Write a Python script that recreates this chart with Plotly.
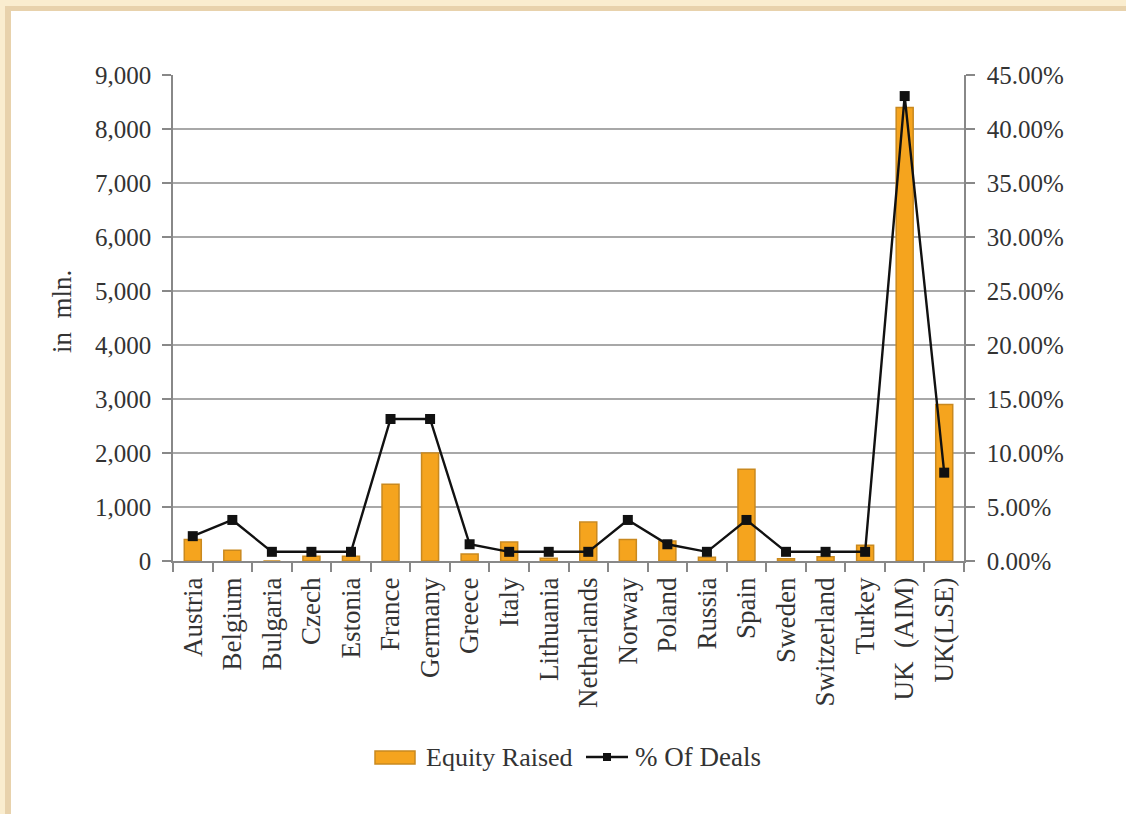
import plotly.graph_objects as go

countries = ["Austria", "Belgium", "Bulgaria", "Czech", "Estonia", "France", "Germany",
             "Greece", "Italy", "Lithuania", "Netherlands", "Norway", "Poland", "Russia",
             "Spain", "Sweden", "Switzerland", "Turkey", "UK  (AIM)", "UK(LSE)"]
equity_raised = [400, 200, 0, 90, 90, 1420, 2000, 130, 350, 50, 720, 400, 370, 70,
                 1700, 40, 80, 290, 8400, 2900]
pct_deals = [0.023, 0.038, 0.0085, 0.0085, 0.0085, 0.1315, 0.1315, 0.0155, 0.0085, 0.0085,
             0.0085, 0.038, 0.0155, 0.0085, 0.038, 0.0085, 0.0085, 0.0085, 0.4305, 0.0818]

W, H = 1126, 814
L, R, T, B = 173, 964, 75, 561

FONT = "Liberation Serif"
TXT = "#333333"
BAR_FILL = "#F5A41E"
BAR_LINE = "#C9891F"

fig = go.Figure()
fig.add_trace(go.Bar(x=countries, y=equity_raised, name="Equity Raised",
                     marker=dict(color=BAR_FILL, line=dict(color=BAR_LINE, width=1.5))))
fig.add_trace(go.Scatter(x=countries, y=pct_deals, name="% Of Deals", yaxis="y2",
                         mode="lines+markers", cliponaxis=False,
                         line=dict(color="#111111", width=2.4),
                         marker=dict(symbol="square", size=10, color="#111111")))

def px_x(p):
    return (p - L) / (R - L)

def px_y(p):
    return (B - p) / (B - T)

shapes = [
    dict(type="rect", xref="paper", yref="paper", x0=px_x(0), x1=px_x(W), y0=px_y(0), y1=px_y(11),
         fillcolor="#FAEDCF", line=dict(width=0), layer="below"),
    dict(type="rect", xref="paper", yref="paper", x0=px_x(0), x1=px_x(11), y0=px_y(0), y1=px_y(H),
         fillcolor="#FAEDCF", line=dict(width=0), layer="below"),
    dict(type="rect", xref="paper", yref="paper", x0=px_x(5), x1=px_x(W), y0=px_y(6), y1=px_y(11),
         fillcolor="#E8D2AC", line=dict(width=0), layer="below"),
    dict(type="rect", xref="paper", yref="paper", x0=px_x(5), x1=px_x(11), y0=px_y(6), y1=px_y(H),
         fillcolor="#E8D2AC", line=dict(width=0), layer="below"),
    # legend swatches
    dict(type="rect", xref="paper", yref="paper", x0=px_x(375), x1=px_x(415), y0=px_y(751),
         y1=px_y(764), fillcolor=BAR_FILL, line=dict(color=BAR_LINE, width=1.5)),
    dict(type="line", xref="paper", yref="paper", x0=px_x(586), x1=px_x(628), y0=px_y(757),
         y1=px_y(757), line=dict(color="#111111", width=2.4)),
    dict(type="rect", xref="paper", yref="paper", x0=px_x(603), x1=px_x(611), y0=px_y(753),
         y1=px_y(761), fillcolor="#111111", line=dict(width=0)),
]

fig.update_layout(
    width=W, height=H,
    margin=dict(l=L, r=W - R, t=T, b=H - B),
    paper_bgcolor="white", plot_bgcolor="white",
    font=dict(family=FONT, size=25, color=TXT),
    bargap=0.57,
    showlegend=False,
    xaxis=dict(type="category", range=[-0.5, len(countries) - 0.5], tickangle=-90,
               ticks="outside", tickson="boundaries",
               ticklen=9, tickcolor="#888888", tickwidth=1.5, ticklabelstandoff=4,
               showline=True, linecolor="#888888", linewidth=1.5,
               tickfont=dict(size=27, color=TXT), showgrid=False),
    yaxis=dict(range=[0, 9000], dtick=1000, tickformat=",d", ticks="outside", ticklen=9,
               tickcolor="#888888", tickwidth=1.5, showline=True, linecolor="#888888",
               linewidth=1.5, showgrid=True, gridcolor="#A8A8A8", gridwidth=2,
               ticklabelstandoff=6,
               zeroline=False, tickfont=dict(size=25, color=TXT)),
    yaxis2=dict(range=[0, 0.45], dtick=0.05, tickformat=".2%", overlaying="y", side="right",
                ticks="outside", ticklen=9, tickcolor="#888888", tickwidth=1.5,
                showline=True, linecolor="#888888", linewidth=1.5, showgrid=False,
                ticklabelstandoff=7,
                zeroline=False, tickfont=dict(size=25, color=TXT)),
    shapes=shapes,
    annotations=[
        dict(text="in  mln.", xref="paper", yref="paper", x=px_x(62), y=px_y(312),
             showarrow=False, textangle=-90, font=dict(size=27, color=TXT),
             xanchor="center", yanchor="middle"),
        dict(text="Equity Raised", xref="paper", yref="paper", x=px_x(424), y=px_y(757),
             showarrow=False, font=dict(size=26, color=TXT), xanchor="left", yanchor="middle"),
        dict(text="% Of Deals", xref="paper", yref="paper", x=px_x(633), y=px_y(757),
             showarrow=False, font=dict(size=27, color=TXT), xanchor="left", yanchor="middle"),
    ],
)

fig.write_html("out.html", config={"displayModeBar": False},
               post_script="document.body.style.margin='0px';")
